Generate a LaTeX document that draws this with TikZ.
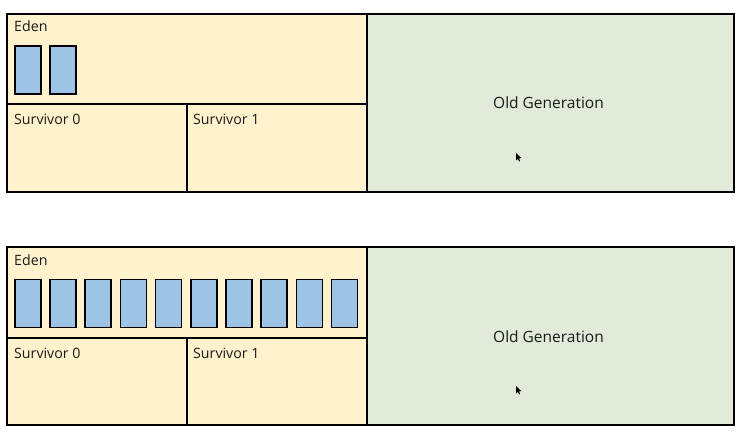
\documentclass[tikz,border=0pt]{standalone}
\usepackage{fontspec}
\setmainfont{Open Sans}
\definecolor{edenfill}{HTML}{FFF2CC}
\definecolor{oldfill}{HTML}{E2EBD9}
\definecolor{blockfill}{HTML}{9DC3E6}
\definecolor{txt}{HTML}{1A1A1A}
\tikzset{
  region/.style={draw=black, line width=1.6pt, inner sep=0pt, rectangle},
  eden/.style={region, fill=edenfill},
  oldgen/.style={region, fill=oldfill},
  obj/.style={draw=black, line width=1.5pt, fill=blockfill, inner sep=0pt, rectangle, minimum width=26pt, minimum height=48pt, anchor=south west},
  lbl/.style={anchor=base west, inner sep=0pt, text=txt, font=\fontsize{14.2}{16}\selectfont},
  biglbl/.style={anchor=base, inner sep=0pt, text=txt, font=\fontsize{15.5}{18}\selectfont},
}
\begin{document}
\begin{tikzpicture}[x=1pt,y=1pt]
\useasboundingbox (0,0) rectangle (754,442);
% ---------- top heap ----------
\node[eden, minimum width=360pt, minimum height=90pt, anchor=north west] (edenA) at (6,429) {};
\node[eden, minimum width=180pt, minimum height=88pt, anchor=north west] (s0A) at (6,339) {};
\node[eden, minimum width=180pt, minimum height=88pt, anchor=north west] (s1A) at (186,339) {};
\node[oldgen, minimum width=367pt, minimum height=178pt, anchor=north west] (oldA) at (366,429) {};
\node[lbl] (edenAl) at (14,410) {Eden};
\node[lbl] (s0Al) at (14,317) {Survivor 0};
\node[lbl] (s1Al) at (193,317) {Survivor 1};
\node[biglbl] (oldAl) at (548.5,333) {Old Generation};
\foreach \i in {0,1} {
  \node[obj] (a\i) at ({14+35.2*\i},347) {};
}
\fill[black] (516,289) -- (516,281.5) -- (517.8,283.2) -- (519.2,280.5) -- (520.2,281) -- (518.9,283.6) -- (521.3,284) -- cycle;
% ---------- bottom heap ----------
\node[eden, minimum width=360pt, minimum height=91pt, anchor=north west] (edenB) at (6,196) {};
\node[eden, minimum width=180pt, minimum height=87pt, anchor=north west] (s0B) at (6,105) {};
\node[eden, minimum width=180pt, minimum height=87pt, anchor=north west] (s1B) at (186,105) {};
\node[oldgen, minimum width=367pt, minimum height=178pt, anchor=north west] (oldB) at (366,196) {};
\node[lbl] (edenBl) at (14,176) {Eden};
\node[lbl] (s0Bl) at (14,84) {Survivor 0};
\node[lbl] (s1Bl) at (193,84) {Survivor 1};
\node[biglbl] (oldBl) at (548.5,100) {Old Generation};
\foreach \i in {0,...,9} {
  \node[obj] (b\i) at ({14+35.2*\i},114) {};
}
\fill[black] (516,56) -- (516,48.5) -- (517.8,50.2) -- (519.2,47.5) -- (520.2,48) -- (518.9,50.6) -- (521.3,51) -- cycle;
\end{tikzpicture}
\end{document}
